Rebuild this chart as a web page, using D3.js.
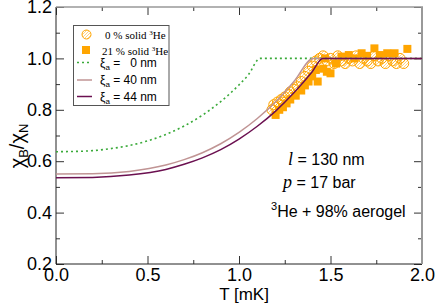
<!DOCTYPE html>
<html>
<head>
<meta charset="utf-8">
<title>chi B / chi N</title>
<style>
body{margin:0;background:#fff;}
.tick text{font-family:"Liberation Sans",Arial,sans-serif;font-size:18px;fill:#000;}
.tick line{stroke:#333;}
.lab{font-family:"Liberation Sans",Arial,sans-serif;fill:#000;}
.ser{font-family:"Liberation Serif","Times New Roman",serif;fill:#000;}
</style>
</head>
<body>
<script src="https://cdnjs.cloudflare.com/ajax/libs/d3/7.8.5/d3.min.js"></script>
<script>

// theory curves
var tGreen  = [0, 0.1, 0.2, 0.3, 0.4, 0.5, 0.6, 0.7, 0.8, 0.9, 1.0, 1.05, 1.115, 2.0];
var vGreen  = [0.637, 0.638, 0.641, 0.649, 0.661, 0.679, 0.704, 0.737, 0.779, 0.832, 0.897, 0.935, 1.0, 1.0];
var tBrown  = [0, 0.2, 0.4, 0.6, 0.7, 0.8, 0.9, 1.0, 1.1, 1.2, 1.3, 1.406, 2.0];
var vBrown  = [0.55, 0.551, 0.560, 0.585, 0.606, 0.633, 0.668, 0.712, 0.766, 0.831, 0.910, 1.0, 1.0];
var tPurple = [0, 0.2, 0.4, 0.6, 0.7, 0.8, 0.9, 1.0, 1.1, 1.2, 1.3, 1.4, 1.457, 2.0];
var vPurple = [0.536, 0.537, 0.546, 0.568, 0.588, 0.613, 0.645, 0.686, 0.736, 0.795, 0.866, 0.948, 1.0, 1.0];

// 0 % solid 3He
var circT = [1.18, 1.19, 1.20, 1.21, 1.22, 1.23, 1.24, 1.25, 1.27, 1.28, 1.30, 1.32, 1.34, 1.36, 1.38, 1.40, 1.42, 1.44,
             1.46, 1.48, 1.50, 1.52, 1.54, 1.56, 1.58, 1.60, 1.62, 1.64, 1.66, 1.68, 1.70, 1.72, 1.74, 1.76, 1.78, 1.80,
             1.82, 1.84, 1.86, 1.88, 1.90];
var circV = [0.80, 0.82, 0.81, 0.83, 0.82, 0.84, 0.83, 0.85, 0.86, 0.87, 0.88, 0.89, 0.91, 0.93, 0.95, 0.97, 0.99, 1.00,
             1.01, 0.99, 1.00, 0.98, 1.01, 0.99, 0.98, 1.00, 0.99, 1.01, 0.98, 1.00, 0.99, 0.98, 1.01, 0.99, 1.00, 0.98,
             1.01, 0.99, 0.98, 1.00, 0.98];
// 21 % solid 3He
var sqT = [1.20, 1.22, 1.24, 1.26, 1.28, 1.31, 1.34, 1.36, 1.38, 1.40, 1.43, 1.42, 1.46, 1.48, 1.50, 1.47, 1.53,
           1.56, 1.60, 1.63, 1.67, 1.70, 1.74, 1.77, 1.81, 1.85, 1.92];
var sqV = [0.78, 0.80, 0.81, 0.825, 0.84, 0.855, 0.875, 0.895, 0.91, 0.93, 0.91, 0.955, 0.96, 0.948, 0.942, 1.0, 0.98,
           1.007, 1.013, 1.0, 1.02, 1.01, 1.039, 1.013, 1.02, 1.02, 1.037];

var xMajor = [0, 0.5, 1.0, 1.5, 2.0];
var xMinor = [0.25, 0.75, 1.25, 1.75];
var yMajor = [0.2, 0.4, 0.6, 0.8, 1.0, 1.2];
var yMinor = [0.3, 0.5, 0.7, 0.9, 1.1];

function zip(a, b){ return a.map(function(d,i){ return [d, b[i]]; }); }

var w = 436;
var h = 308;
var svg = d3.select("body").append("svg").attr("width",w).attr("height",h);

var x = d3.scaleLinear().domain([0,2]).range([56,422]);
var y = d3.scaleLinear().domain([0.2,1.2]).range([264,7]);

var orange = "#ffa500";
var green = "#3aaa3a";
var brown = "#c09494";
var purple = "#6b1050";

// hatch for the open circles
var pat = svg.append("defs").append("pattern")
  .attr("id","hatch").attr("patternUnits","userSpaceOnUse")
  .attr("width",3).attr("height",3);
pat.append("path").attr("d","M0,3 L3,0").attr("stroke",orange).attr("stroke-width",0.7).attr("opacity",0.7);

// axes, ticks pointing inward
function ax(gen, tr, vals, size, fmt){
  var g = svg.append("g").attr("transform",tr)
    .call(gen.tickValues(vals).tickSizeInner(size).tickSizeOuter(0).tickPadding(4).tickFormat(fmt));
  g.select(".domain").remove();
  return g;
}
ax(d3.axisBottom(x), "translate(0,264)", xMajor, -8, d3.format(".1f")).selectAll("text").attr("dy","0.72em");
ax(d3.axisBottom(x), "translate(0,264)", xMinor, -4, "");
ax(d3.axisTop(x), "translate(0,7)", xMajor, -8, "");
ax(d3.axisTop(x), "translate(0,7)", xMinor, -4, "");
ax(d3.axisLeft(y), "translate(56,0)", yMajor, -8, d3.format(".1f"));
ax(d3.axisLeft(y), "translate(56,0)", yMinor, -4, "");
ax(d3.axisRight(y), "translate(422,0)", yMajor, -8, "");
ax(d3.axisRight(y), "translate(422,0)", yMinor, -4, "");

// frame
svg.append("line").attr("x1",56).attr("x2",56).attr("y1",7).attr("y2",264).attr("stroke","#222");
svg.append("line").attr("x1",56).attr("x2",422).attr("y1",264).attr("y2",264).attr("stroke","#222");
svg.append("line").attr("x1",56).attr("x2",423).attr("y1",7).attr("y2",7).attr("stroke","#999").attr("stroke-width",1.5);
svg.append("line").attr("x1",422).attr("x2",422).attr("y1",7).attr("y2",264).attr("stroke","#999").attr("stroke-width",2);

// data points
svg.append("g").selectAll("circle").data(zip(circT,circV)).enter().append("circle")
  .attr("cx",function(d){return x(d[0])})
  .attr("cy",function(d){return y(d[1])})
  .attr("r",5)
  .attr("fill","url(#hatch)")
  .attr("stroke",orange).attr("stroke-width",1);
svg.append("g").selectAll("rect").data(zip(sqT,sqV)).enter().append("rect")
  .attr("x",function(d){return x(d[0]) - 4})
  .attr("y",function(d){return y(d[1]) - 4})
  .attr("width",8).attr("height",8)
  .attr("fill",orange);

// theory curves
var line = d3.line()
  .x(function(d){return x(d[0])})
  .y(function(d){return y(d[1])})
  .curve(d3.curveMonotoneX);
svg.append("path").attr("d",line(zip(tGreen,vGreen))).attr("fill","none")
  .attr("stroke",green).attr("stroke-width",1.6).attr("stroke-dasharray","2,3");
svg.append("path").attr("d",line(zip(tBrown,vBrown))).attr("fill","none")
  .attr("stroke",brown).attr("stroke-width",1.5);
svg.append("path").attr("d",line(zip(tPurple,vPurple))).attr("fill","none")
  .attr("stroke",purple).attr("stroke-width",1.5);

// legend
var lg = svg.append("g");
lg.append("rect").attr("x",73.5).attr("y",25.5).attr("width",95.5).attr("height",80)
  .attr("fill","#fff").attr("stroke","#555").attr("stroke-width",1);
lg.append("circle").attr("cx",86.5).attr("cy",34.5).attr("r",4.5)
  .attr("fill","url(#hatch)").attr("stroke",orange);
lg.append("rect").attr("x",82).attr("y",46).attr("width",8).attr("height",8).attr("fill",orange);
lg.append("line").attr("x1",77).attr("x2",92).attr("y1",62.5).attr("y2",62.5)
  .attr("stroke",green).attr("stroke-width",1.6).attr("stroke-dasharray","2,3");
lg.append("line").attr("x1",77).attr("x2",92).attr("y1",80).attr("y2",80)
  .attr("stroke",brown).attr("stroke-width",1.5);
lg.append("line").attr("x1",77).attr("x2",92).attr("y1",96.5).attr("y2",96.5)
  .attr("stroke",purple).attr("stroke-width",1.5);

function heText(xp, yp, pre){
  var t = lg.append("text").attr("class","ser").attr("x",xp).attr("y",yp).attr("font-size","11px");
  t.append("tspan").text(pre + " % solid ");
  t.append("tspan").attr("font-size","7px").attr("dy",-4).text("3");
  t.append("tspan").attr("dy",4).text("He");
}
heText(105, 38.5, "0");
heText(102, 55, "21");

function xiText(yp, rest){
  var t = lg.append("text").attr("class","lab").attr("x",100).attr("y",yp).attr("font-size","12px")
    .style("white-space","pre");
  t.append("tspan").text("\u03be");
  t.append("tspan").attr("font-size","8px").attr("dy",3).text("a");
  t.append("tspan").attr("dy",-3).text(rest);
}
xiText(66.5, " =   0 nm");
xiText(84, " = 40 nm");
xiText(100.5, " = 44 nm");

// annotations
var a1 = svg.append("text").attr("class","lab").attr("x",288).attr("y",165).attr("font-size","16px");
a1.append("tspan").attr("class","ser").attr("font-style","italic").attr("font-size","18px").text("l");
a1.append("tspan").text(" = 130 nm");
var a2 = svg.append("text").attr("class","lab").attr("x",283).attr("y",188).attr("font-size","16px");
a2.append("tspan").attr("class","ser").attr("font-style","italic").attr("font-size","18px").text("p");
a2.append("tspan").text(" = 17 bar");
var a3 = svg.append("text").attr("class","lab").attr("x",271).attr("y",217).attr("font-size","16px");
a3.append("tspan").attr("font-size","11px").attr("dy",-7).text("3");
a3.append("tspan").attr("dy",7).text("He + 98% aerogel");

// axis titles
svg.append("text").attr("class","lab").attr("x",244).attr("y",300)
  .attr("text-anchor","middle").attr("font-size","17px").text("T [mK]");
var yt = svg.append("text").attr("class","lab").attr("transform","translate(24,146) rotate(-90)")
  .attr("text-anchor","middle").attr("font-size","20px");
yt.append("tspan").text("\u03c7");
yt.append("tspan").attr("font-size","13px").attr("dy",4).text("B");
yt.append("tspan").attr("dy",-4).text("/\u03c7");
yt.append("tspan").attr("font-size","13px").attr("dy",4).text("N");

</script>
</body>
</html>
